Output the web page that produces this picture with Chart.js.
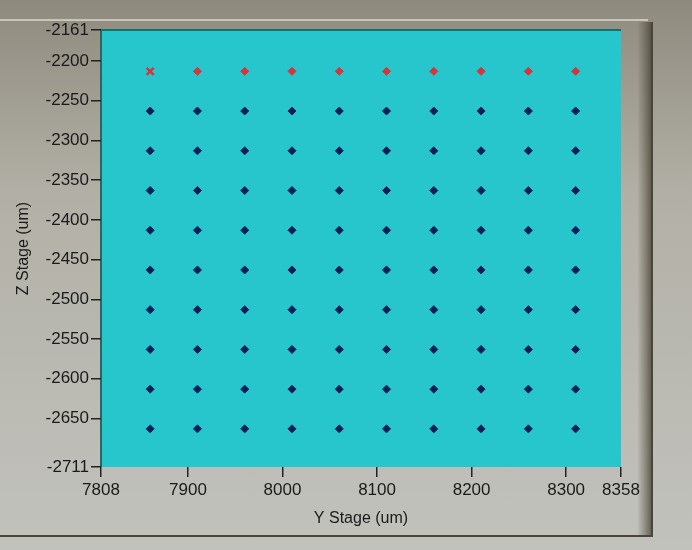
<!DOCTYPE html>
<html>
<head>
<meta charset="utf-8">
<script src="https://cdn.jsdelivr.net/npm/chart.js@4/dist/chart.umd.min.js"></script>
<style>
  html, body { margin: 0; padding: 0; }
  body { width: 692px; height: 550px; background: linear-gradient(#8f8a7e, #b2b0a6 35%, #c2c2bd); }
  #wrap { position: relative; width: 692px; height: 550px; }
</style>
</head>
<body>
<div id="wrap"><canvas id="stageChart" width="692" height="550"></canvas></div>
<script>
// stage grid positions (um)
const yStageCols = [7860, 7910, 7960, 8010, 8060, 8110, 8160, 8210, 8260, 8310];
const zStageRows = [-2213, -2263, -2313, -2363, -2413, -2463, -2513, -2563, -2613, -2663];
const xTicks = [7808, 7900, 8000, 8100, 8200, 8300, 8358];
const yTicks = [-2711, -2650, -2600, -2550, -2500, -2450, -2400, -2350, -2300, -2250, -2200, -2161];

// first row is done (red), first point is the current one (x marker)
const donePoints = [];
const pendingPoints = [];
const currentPoint = [{ x: yStageCols[0], y: zStageRows[0] }];
zStageRows.forEach((z, r) => {
    yStageCols.forEach((y, c) => {
        if (r === 0 && c === 0) return;
        (r === 0 ? donePoints : pendingPoints).push({ x: y, y: z });
    });
});

// plot background + panel frame
const framePlugin = {
    id: 'frame',
    beforeDraw(chart) {
        const { ctx, chartArea: a } = chart;
        ctx.save();
        // panel edges
        ctx.strokeStyle = 'rgba(235,235,225,0.6)';
        ctx.lineWidth = 2;
        ctx.beginPath(); ctx.moveTo(0, 20); ctx.lineTo(648, 20); ctx.stroke();
        const g = ctx.createLinearGradient(638, 0, 652, 0);
        g.addColorStop(0, 'rgba(80,75,60,0.05)');
        g.addColorStop(1, 'rgba(60,55,40,0.75)');
        ctx.fillStyle = g;
        ctx.fillRect(638, 22, 14, 514);
        ctx.strokeStyle = '#4a4538';
        ctx.lineWidth = 2;
        ctx.beginPath(); ctx.moveTo(652, 22); ctx.lineTo(652, 536); ctx.lineTo(0, 536); ctx.stroke();
        // plot area
        ctx.fillStyle = '#27c6cc';
        ctx.fillRect(a.left, a.top, a.right - a.left, a.bottom - a.top);
        ctx.strokeStyle = '#1a6e6a';
        ctx.lineWidth = 2;
        ctx.beginPath();
        ctx.moveTo(a.left, a.bottom); ctx.lineTo(a.left, a.top); ctx.lineTo(a.right, a.top);
        ctx.stroke();
        ctx.restore();
    }
};

const tickFont = { family: 'Liberation Sans', size: 17 };
const plain = v => String(v);

new Chart(document.getElementById('stageChart'), {
    type: 'scatter',
    data: {
        datasets: [
            {
                label: 'pending',
                data: pendingPoints,
                pointStyle: 'rectRot',
                radius: 4,
                backgroundColor: '#0c1f5c',
                borderColor: '#0c1f5c',
                borderWidth: 1
            },
            {
                label: 'done',
                data: donePoints,
                pointStyle: 'rectRot',
                radius: 4,
                backgroundColor: '#d8343a',
                borderColor: '#d8343a',
                borderWidth: 1
            },
            {
                label: 'current',
                data: currentPoint,
                pointStyle: 'crossRot',
                radius: 5,
                borderColor: '#d8343a',
                borderWidth: 2.5
            }
        ]
    },
    options: {
        responsive: false,
        animation: false,
        events: [],
        layout: { padding: { left: 0, top: 30, right: 71, bottom: 22 } },
        plugins: { legend: { display: false }, tooltip: { enabled: false } },
        scales: {
            x: {
                type: 'linear',
                min: 7808,
                max: 8358,
                afterBuildTicks: axis => { axis.ticks = xTicks.map(v => ({ value: v })); },
                afterFit: axis => { axis.height = 61; },
                border: { display: false },
                grid: { drawOnChartArea: false, tickLength: 10, color: '#222', lineWidth: 1.5 },
                ticks: { color: '#1a1a1a', font: tickFont, padding: 3, maxRotation: 0, autoSkip: false, callback: plain },
                title: { display: true, text: 'Y Stage (um)', color: '#1a1a1a', font: { family: 'Liberation Sans', size: 16 }, padding: { top: 2, bottom: 0 } }
            },
            y: {
                type: 'linear',
                min: -2711,
                max: -2161,
                afterBuildTicks: axis => { axis.ticks = yTicks.map(v => ({ value: v })); },
                afterFit: axis => { axis.width = 101; },
                border: { display: false },
                grid: { drawOnChartArea: false, tickLength: 10, color: '#222', lineWidth: 1.5 },
                ticks: { color: '#1a1a1a', font: tickFont, padding: 2, autoSkip: false, callback: plain },
                title: { display: true, text: 'Z Stage (um)', color: '#1a1a1a', font: { family: 'Liberation Sans', size: 16 }, padding: { top: 14, bottom: 0 } }
            }
        }
    },
    plugins: [framePlugin]
});
</script>
</body>
</html>
